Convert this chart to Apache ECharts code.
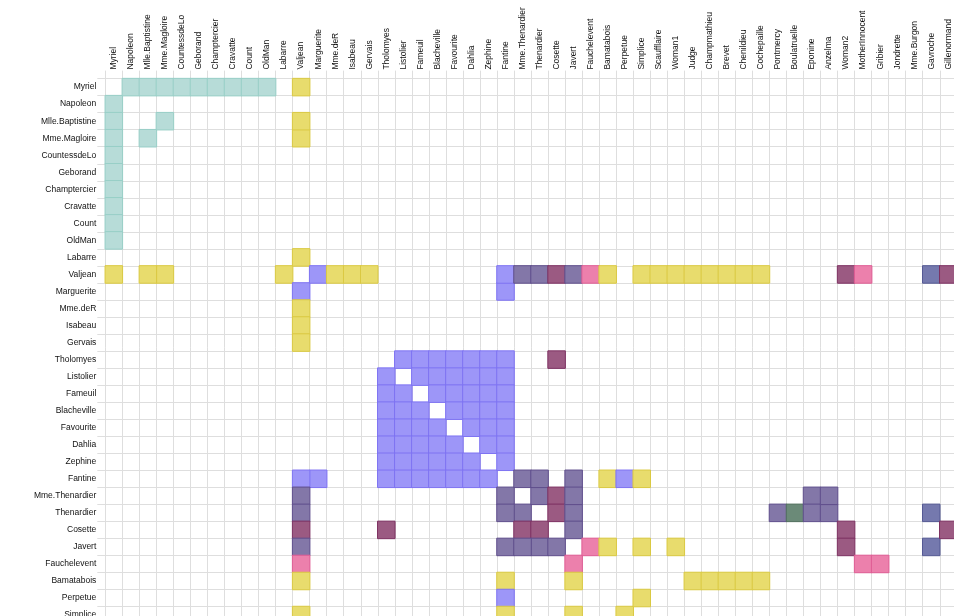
<!DOCTYPE html>
<html><head><meta charset="utf-8">
<script src="https://cdn.jsdelivr.net/npm/echarts@6/dist/echarts.min.js"></script>
<style>html,body{margin:0;padding:0;background:#fff;overflow:hidden}#c{width:954px;height:616px}</style>
</head><body><div id="c"></div>
<script>
const names = ["Myriel","Napoleon","Mlle.Baptistine","Mme.Magloire","CountessdeLo","Geborand","Champtercier","Cravatte","Count","OldMan","Labarre","Valjean","Marguerite","Mme.deR","Isabeau","Gervais","Tholomyes","Listolier","Fameuil","Blacheville","Favourite","Dahlia","Zephine","Fantine","Mme.Thenardier","Thenardier","Cosette","Javert","Fauchelevent","Bamatabois","Perpetue","Simplice","Scaufflaire","Woman1","Judge","Champmathieu","Brevet","Chenildieu","Cochepaille","Pontmercy","Boulatruelle","Eponine","Anzelma","Woman2","MotherInnocent","Gribier","Jondrette","Mme.Burgon","Gavroche","Gillenormand","Magnon","Mlle.Gillenormand","Mme.Pontmercy","Mlle.Vaubois","Lt.Gillenormand","Marius","BaronessT","Mabeuf","Enjolras","Combeferre","Prouvaire","Feuilly","Courfeyrac","Bahorel","Bossuet","Joly","Grantaire","MotherPlutarch","Gueulemer","Babet","Claquesous","Montparnasse","Toussaint","Child1","Child2","Brujon","Mme.Hucheloup"];
const groups = [1,1,1,1,1,1,1,1,1,1,2,2,3,2,2,2,3,3,3,3,3,3,3,3,4,4,5,4,0,2,3,2,2,2,2,2,2,2,2,4,6,4,4,5,0,0,7,7,8,5,5,5,5,5,5,8,5,8,8,8,8,8,8,8,8,8,8,9,4,4,4,4,5,10,10,4,8];
// [source, target, value]
const links = [[1,0,1],[2,0,8],[3,0,10],[3,2,6],[4,0,1],[5,0,1],[6,0,1],[7,0,1],[8,0,2],[9,0,1],[11,10,1],[11,3,3],[11,2,3],[11,0,5],[12,11,1],[13,11,1],[14,11,1],[15,11,1],[17,16,4],[18,16,4],[18,17,4],[19,16,4],[19,17,4],[19,18,4],[20,16,3],[20,17,3],[20,18,3],[20,19,4],[21,16,3],[21,17,3],[21,18,3],[21,19,3],[21,20,5],[22,16,3],[22,17,3],[22,18,3],[22,19,3],[22,20,4],[22,21,4],[23,16,3],[23,17,3],[23,18,3],[23,19,3],[23,20,4],[23,21,4],[23,22,4],[23,12,2],[23,11,9],[24,23,2],[24,11,7],[25,24,13],[25,23,1],[25,11,12],[26,24,4],[26,11,31],[26,16,1],[26,25,1],[27,11,17],[27,23,5],[27,25,5],[27,24,1],[27,26,1],[28,11,8],[28,27,1],[29,23,1],[29,27,1],[29,11,2],[30,23,1],[31,30,2],[31,11,3],[31,23,2],[31,27,1],[32,11,1],[33,11,2],[33,27,1],[34,11,3],[34,29,2],[35,34,3],[35,11,2],[35,29,2],[36,34,2],[36,35,1],[36,11,2],[36,29,1],[37,34,2],[37,35,1],[37,36,2],[37,11,2],[37,29,1],[38,34,2],[38,35,1],[38,36,1],[38,37,1],[38,11,2],[38,29,1],[39,25,1],[40,25,1],[41,24,2],[41,25,3],[42,41,2],[42,25,2],[42,24,1],[43,11,3],[43,26,1],[43,27,1],[44,28,3],[44,11,1],[45,28,2],[47,46,1],[48,47,2],[48,25,1],[48,27,1],[48,11,1],[49,26,3],[49,11,2],[50,49,1],[50,24,1],[51,49,9],[51,26,2],[51,11,2],[52,51,1],[52,39,1],[53,51,1],[54,51,2],[54,49,1],[54,26,1],[55,51,6],[55,49,12],[55,39,1],[55,54,1],[55,26,21],[55,11,19],[55,16,1],[55,25,2],[55,41,5],[55,48,4],[56,49,1],[56,55,1],[57,55,1],[57,41,1],[57,48,1],[58,55,7],[58,48,7],[58,27,6],[58,57,1],[58,11,4],[59,58,15],[59,55,5],[59,48,6],[59,57,2],[60,48,1],[60,58,4],[60,59,2],[61,48,2],[61,58,6],[61,60,2],[61,59,5],[61,57,1],[61,55,1],[62,55,9],[62,58,17],[62,59,13],[62,48,7],[62,57,2],[62,41,1],[62,61,6],[62,60,3],[63,59,5],[63,58,4],[63,62,6],[63,61,2],[63,48,2],[63,55,1],[63,57,1],[64,55,5],[64,62,12],[64,48,5],[64,63,4],[64,58,10],[64,61,6],[64,60,2],[64,59,9],[64,57,1],[64,11,1],[65,63,5],[65,64,7],[65,48,3],[65,62,5],[65,58,5],[65,61,5],[65,60,2],[65,59,5],[65,57,1],[65,55,2],[66,64,3],[66,58,3],[66,59,1],[66,62,2],[66,65,2],[66,48,1],[66,63,1],[66,61,1],[66,60,1],[67,57,3],[68,25,5],[68,11,1],[68,24,1],[68,27,1],[68,48,1],[68,41,1],[69,25,6],[69,68,6],[69,11,1],[69,24,1],[69,27,2],[69,48,1],[69,41,1],[70,25,4],[70,69,4],[70,68,4],[70,11,1],[70,24,1],[70,27,1],[70,41,1],[70,58,1],[71,27,1],[71,69,2],[71,68,2],[71,70,2],[71,11,1],[71,48,1],[71,41,1],[71,25,1],[72,26,2],[72,27,1],[72,11,1],[73,48,2],[74,48,2],[74,73,3],[75,69,3],[75,68,3],[75,25,3],[75,48,1],[75,41,1],[75,70,1],[75,71,1],[76,64,1],[76,65,1],[76,66,1],[76,63,1],[76,62,1],[76,48,1],[76,58,1]];
const groupFill = ["#ec80ac","#b7dcd8","#e8dc6d","#9d96f8","#8377a8","#9b5a82","#6b8a78","#c9a06c","#7579ae","#8fb8d8","#d89a7a"];
const groupBorder = ["#df5c94","#98cfc7","#dac942","#7e73f2","#5f4e8c","#7d3162","#506f5d","#ad7f45","#545993","#6a9cc4","#c07a55"];

const cells = [];
links.forEach(([s, t, v]) => {
  const g = groups[s];
  const style = {color: groupFill[g], borderColor: groupBorder[g], borderWidth: 1};
  cells.push({value: [t, s, v], itemStyle: style});
  cells.push({value: [s, t, v], itemStyle: style});
});

const cell = 17.03;
const n = names.length;
const axisGray = '#dedede';
const font = {fontFamily: 'Liberation Sans, Arial, sans-serif', fontSize: 8.5, color: '#111'};

const chart = echarts.init(document.getElementById('c'), null, {renderer: 'canvas'});
chart.setOption({
  animation: false,
  backgroundColor: '#fff',
  grid: {left: 105.3, top: 78.6, width: cell * n, height: cell * n, containLabel: false, outerBoundsMode: 'none'},
  xAxis: {
    type: 'category', data: names, position: 'top',
    axisLine: {show: false},
    axisTick: {show: true, length: 8, lineStyle: {color: axisGray}},
    axisLabel: Object.assign({rotate: -90, interval: 0, margin: 9, hideOverlap: false}, font),
    splitLine: {show: true, interval: 0, lineStyle: {color: axisGray, width: 1}}
  },
  yAxis: {
    type: 'category', data: names, inverse: true,
    axisLine: {show: false},
    axisTick: {show: true, length: 8, lineStyle: {color: axisGray}},
    axisLabel: Object.assign({interval: 0, margin: 9, hideOverlap: false}, font),
    splitLine: {show: true, interval: 0, lineStyle: {color: axisGray, width: 1}}
  },
  series: [{
    type: 'heatmap',
    data: cells,
    emphasis: {disabled: true}
  }]
});
</script>
</body></html>
